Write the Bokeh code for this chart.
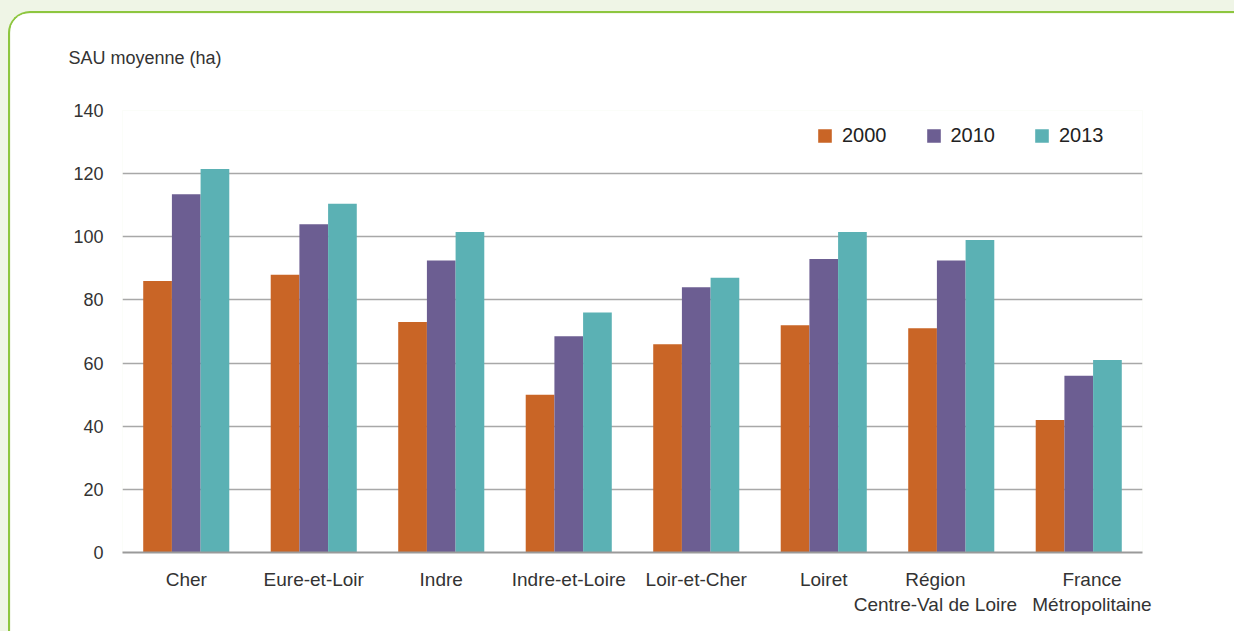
from bokeh.plotting import figure
from bokeh.models import ColumnDataSource, FactorRange, Legend, LegendItem, Title
from bokeh.transform import dodge
from bokeh.layouts import column
from bokeh.embed import file_html
from bokeh.resources import INLINE

NB = "\u00a0"
categories = ["Cher", "Eure-et-Loir", "Indre", "Indre-et-Loire", "Loir-et-Cher",
              "Loiret",
              "Région" + NB * 6 + "\nCentre-Val de Loire" + NB * 6,
              NB * 5 + "France\n" + NB * 5 + "Métropolitaine"]
v2000 = [86, 88, 73, 50, 66, 72, 71, 42]
v2010 = [113.5, 104, 92.5, 68.5, 84, 93, 92.5, 56]
v2013 = [121.5, 110.5, 101.5, 76, 87, 101.5, 99, 61]
years = ["2000", "2010", "2013"]
y_ticks = [0, 20, 40, 60, 80, 100, 120, 140]
y_title = "SAU moyenne (ha)"
colors = ["#c96526", "#6c5e92", "#5bb1b4"]

src = ColumnDataSource(dict(cat=categories, y2000=v2000, y2010=v2010, y2013=v2013))

FONT = "Liberation Sans"

p = figure(x_range=FactorRange(*categories), y_range=(0, 140),
           width=1226, height=620, output_backend="svg", toolbar_location=None,
           min_border_left=112, min_border_right=94, min_border_top=97, min_border_bottom=81)
p.styles = {"border-top": "2px solid #8dc63f", "border-left": "2px solid #8dc63f",
            "border-top-left-radius": "22px", "overflow": "hidden"}
p.margin = (11, 0, 0, 8)
p.outline_line_color = None
p.background_fill_color = "white"
p.border_fill_color = "white"
p.x_range.range_padding = 0

renderers = []
for yr, off, col in zip(years, [-0.225, 0.0, 0.225], colors):
    r = p.vbar(x=dodge("cat", off, range=p.x_range), top="y" + yr, width=0.225,
               source=src, fill_color=col, line_color=None)
    renderers.append(r)

legend = Legend(items=[LegendItem(label=yr, renderers=[r]) for yr, r in zip(years, renderers)],
                orientation="horizontal", location=(694, 405))
legend.glyph_width = 17
legend.glyph_height = 17
legend.label_height = 17
legend.label_standoff = 9
legend.spacing = 38
legend.padding = 0
legend.margin = 0
legend.border_line_color = None
legend.background_fill_alpha = 0
legend.label_text_font = FONT
legend.label_text_font_size = "20px"
legend.label_text_color = "#222222"
p.add_layout(legend, "center")

p.yaxis.ticker = y_ticks
p.yaxis.axis_line_color = None
p.yaxis.major_tick_line_color = None
p.yaxis.major_tick_out = 0
p.yaxis.minor_tick_line_color = None
p.yaxis.major_label_standoff = 19
p.yaxis.major_label_text_font = FONT
p.yaxis.major_label_text_font_size = "18px"
p.yaxis.major_label_text_color = "#333333"

p.xaxis.axis_line_color = "#9a9a9a"
p.xaxis.axis_line_width = 2
p.xaxis.major_tick_line_color = None
p.xaxis.major_tick_out = 0
p.xaxis.minor_tick_line_color = None
p.xaxis.major_label_standoff = 16
p.xaxis.major_label_text_font = FONT
p.xaxis.major_label_text_font_size = "19px"
p.xaxis.major_label_text_color = "#333333"

p.xgrid.grid_line_color = None
p.ygrid.grid_line_color = "#a8a8a8"
p.ygrid.grid_line_width = 1.5

# spacer panel between the frame and the axis title
spacer = Title(text=" ", text_font_size="32px")
if "standoff" in Title.properties():
    spacer.standoff = 0
p.add_layout(spacer, "above")
t = Title(text=y_title, align="left", offset=-54,
          text_font=FONT, text_font_size="18px", text_font_style="normal",
          text_color="#333333")
p.add_layout(t, "above")

lay = column(p, styles={"background-color": "#eff5e6"})
open("out.html", "w").write(file_html(lay, INLINE))
